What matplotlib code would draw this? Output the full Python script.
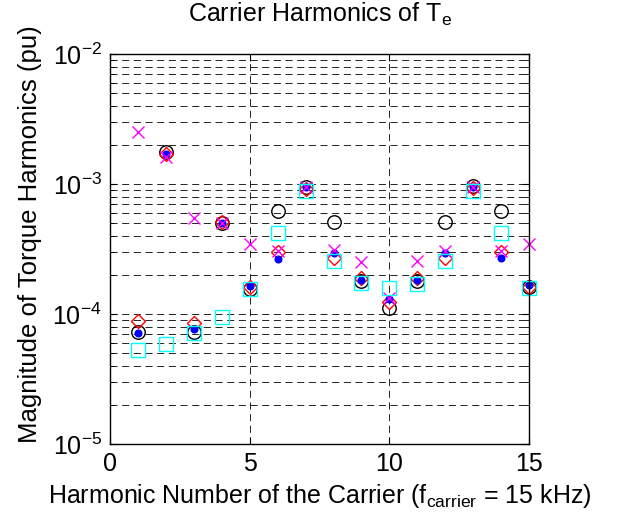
import numpy as np
import matplotlib
matplotlib.use("Agg")
import matplotlib.pyplot as plt
from matplotlib.ticker import LogLocator, FixedLocator

plt.rcParams['font.family'] = ['Liberation Sans', 'DejaVu Sans']
plt.rcParams['mathtext.fontset'] = 'custom'
plt.rcParams['mathtext.rm'] = 'Liberation Sans'
plt.rcParams['mathtext.it'] = 'Liberation Sans'

# harmonic number of the carrier
harm = np.arange(1, 16)

# torque harmonic magnitudes (pu), one list per case
circ = [7.3e-5, 1.77e-3, 7.3e-5, 5.0e-4, 1.57e-4, 6.2e-4, 9.5e-4, 5.1e-4,
        1.8e-4, 1.12e-4, 1.8e-4, 5.1e-4, 9.6e-4, 6.2e-4, 1.6e-4]
diam = [8.8e-5, 1.7e-3, 8.6e-5, 5.1e-4, 1.6e-4, 3.0e-4, 9.2e-4, 2.7e-4,
        1.9e-4, 1.24e-4, 1.88e-4, 2.7e-4, 9.3e-4, 3.0e-4, 1.62e-4]
dots = [7.1e-5, 1.69e-3, 7.6e-5, 5.0e-4, 1.65e-4, 2.67e-4, 9.4e-4, 2.95e-4,
        1.82e-4, 1.3e-4, 1.82e-4, 2.95e-4, 9.5e-4, 2.7e-4, 1.66e-4]
cross = [2.52e-3, 1.62e-3, 5.45e-4, 5.0e-4, 3.44e-4, 3.05e-4, 9.5e-4, 3.1e-4,
         2.49e-4, 1.32e-4, 2.54e-4, 3.07e-4, 9.5e-4, 3.05e-4, 3.45e-4]
squares = [5.3e-5, 5.85e-5, 7.1e-5, 9.4e-5, 1.57e-4, 4.2e-4, 8.9e-4, 2.54e-4,
           1.74e-4, 1.58e-4, 1.7e-4, 2.54e-4, 8.8e-4, 4.2e-4, 1.58e-4]

fig = plt.figure(figsize=(6.26, 5.25), dpi=100)
ax = fig.add_axes([0.1762, 0.1543, 0.6687, 0.7429])

ax.semilogy(harm, circ, 'o', mfc='none', mec='black', ms=9.7, mew=1.0, clip_on=False)
ax.semilogy(harm, diam, 'D', mfc='none', mec='red', ms=7, mew=1.0, clip_on=False)
ax.semilogy(harm, dots, 'o', mfc='blue', mec='blue', ms=4.8, clip_on=False)
ax.semilogy(harm, cross, 'x', color='magenta', ms=8.5, mew=1.0, clip_on=False)
ax.semilogy(harm, squares, 's', mfc='none', mec='cyan', ms=10, mew=1.0, clip_on=False)

ax.set_xlim(0, 15)
ax.set_ylim(1e-5, 1e-2)
ax.xaxis.set_major_locator(FixedLocator([0, 5, 10, 15]))
ax.yaxis.set_major_locator(LogLocator(base=10, numticks=10))
ax.yaxis.set_minor_locator(LogLocator(base=10, subs=np.arange(2, 10), numticks=10))
ax.yaxis.set_minor_formatter(plt.NullFormatter())

dash = (0, (8.5, 5.5))
ax.grid(True, which='both', axis='y', color='black', linestyle=dash, linewidth=0.6)
ax.grid(True, which='major', axis='x', color='black', linestyle=dash, linewidth=0.6)

ax.tick_params(which='both', direction='in', top=True, right=True, labelsize=18)
ax.tick_params(which='major', length=5)
ax.tick_params(which='minor', length=3)
ax.tick_params(axis='x', pad=6)
ax.tick_params(axis='y', pad=6)
for s in ax.spines.values():
    s.set_linewidth(1.0)

ax.set_title('Carrier Harmonics of T$_\\mathregular{e}$', fontsize=18, pad=23)
ax.set_xlabel('Harmonic Number of the Carrier (f$_\\mathregular{carrier}$ = 15 kHz)',
              fontsize=18, labelpad=4)
ax.set_ylabel('Magnitude of Torque Harmonics (pu)', fontsize=18.5)
ax.yaxis.set_label_coords(-0.163, 0.538)

fig.savefig('out.png', dpi=100)
